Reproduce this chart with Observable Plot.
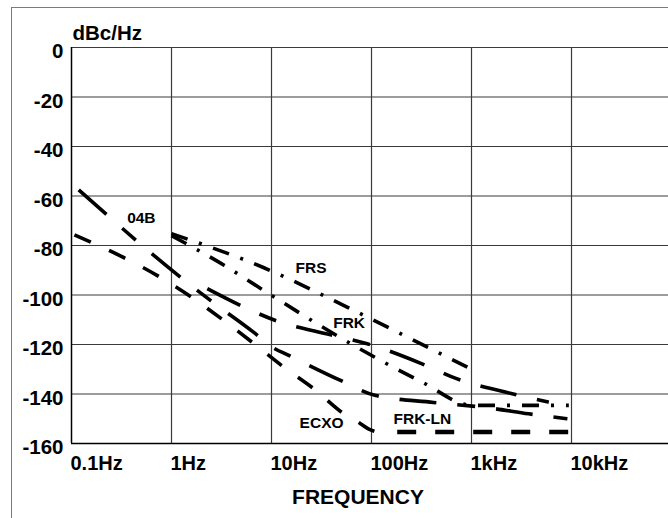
<!DOCTYPE html>
<html>
<head>
<meta charset="utf-8">
<script src="https://cdn.jsdelivr.net/npm/d3@7"></script>
<script src="https://cdn.jsdelivr.net/npm/@observablehq/plot@0.6"></script>
<style>
html, body { margin: 0; padding: 0; background: #fff; overflow: hidden; }
#wrap { position: relative; width: 668px; height: 518px; overflow: hidden; background: #fff; }
#chart { position: absolute; left: 0; top: 0; }
#frame { position: absolute; left: 11px; top: 7px; width: 800px; height: 700px; border: 1.5px solid #7a7a7a; pointer-events: none; }
</style>
</head>
<body>
<div id="wrap"><div id="chart"></div><div id="frame"></div></div>
<script>
// ---- Axis ticks ----
const yTicks = [0, -20, -40, -60, -80, -100, -120, -140, -160];
const xTicks = [0.1, 1, 10, 100, 1000, 10000];
const xTickLabels = ["0.1Hz", "1Hz", "10Hz", "100Hz", "1kHz", "10kHz"];
const yAxisTitle = "dBc/Hz";
const xAxisTitle = "FREQUENCY";

// ---- Curves (frequency in Hz, phase noise in dBc/Hz) ----
const freq04B = [0.118, 1.23, 2.45, 6.6, 10.2, 14.9, 49, 110, 417, 1550, 3720, 9100];
const db04B   = [-57.5, -92.8, -102.2, -115.0, -121.1, -124.4, -134.5, -140.6, -143.4, -145.7, -148.0, -150.0];

const freqFRKlong = [2.28, 4.9, 10.96, 38.9, 90.6, 320, 720, 2550, 5930];
const dbFRKlong   = [-97.4, -104.2, -110.3, -116.1, -119.7, -127.8, -133.9, -139.9, -143.3];

const freqECXO = [0.107, 0.746, 1.55, 3.33, 6.41, 13.3, 26.5, 52.8, 77.6, 93, 114];
const dbECXO   = [-75.7, -92.5, -100.6, -110.3, -119.1, -129.2, -137.9, -148.0, -152.0, -154.1, -155.4];

const freqFRS = [1.0, 8.4, 57, 389, 977];
const dbFRS   = [-75.2, -89.0, -104.9, -121.7, -129.8];

const freqFRK = [1.0, 3.39, 8.4, 51, 321, 1016, 9400];
const dbFRK   = [-76.0, -88.1, -98.2, -117.7, -135.2, -144.6, -144.6];

const freqFRKLN = [180.7, 9400];
const dbFRKLN   = [-155.4, -155.4];

// ---- Curve labels ----
const labelNames = ["04B", "FRS", "FRK", "ECXO", "FRK-LN"];
const labelFreq  = [0.36, 17.4, 41.4, 19.1, 166];
const labelDb    = [-69.1, -89.3, -111.5, -151.9, -150.3];

// ---- Build tables ----
const toRows = (name, fs, ds) => fs.map((f, i) => ({name, f, db: ds[i]}));
const longShort = [...toRows("04B", freq04B, db04B), ...toRows("FRKlong", freqFRKlong, dbFRKlong)];
const ecxo = toRows("ECXO", freqECXO, dbECXO);
const dashDot = [...toRows("FRS", freqFRS, dbFRS), ...toRows("FRK", freqFRK, dbFRK)];
const frkln = toRows("FRK-LN", freqFRKLN, dbFRKLN);
const labels = labelNames.map((name, i) => ({name, f: labelFreq[i], db: labelDb[i]}));
const xTickRows = xTicks.map((v, i) => ({v, label: xTickLabels[i]}));

const gridColor = "#3a3a3a";
const arial = "Liberation Sans, Arial, sans-serif";

const chart = Plot.plot({
  width: 668,
  height: 518,
  marginLeft: 71,
  marginRight: 0,
  marginTop: 47,
  marginBottom: 75,
  x: {type: "log", domain: [0.1, 93325], axis: null},
  y: {domain: [-160, 0], axis: null},
  style: {fontFamily: arial, fontWeight: "bold", color: "#000", background: "transparent", overflow: "visible"},
  marks: [
    Plot.ruleY(yTicks.filter(d => d !== -160), {y: d => d, stroke: gridColor, strokeWidth: 1.2}),
    Plot.ruleX(xTicks.filter(d => d !== 0.1), {x: d => d, stroke: gridColor, strokeWidth: 1.2}),
    Plot.ruleY([-160], {y: d => d, stroke: "#000", strokeWidth: 1.5}),
    Plot.ruleX([0.1], {x: d => d, stroke: "#000", strokeWidth: 1.5}),

    Plot.line(longShort, {x: "f", y: "db", z: "name", stroke: "#000", strokeWidth: 3.6,
      strokeDasharray: "37,21,18,21", strokeLinecap: "butt", curve: "monotone-x"}),
    Plot.line(ecxo, {x: "f", y: "db", z: "name", stroke: "#000", strokeWidth: 3.6,
      strokeDasharray: "18,20", strokeLinecap: "butt", curve: "monotone-x"}),
    Plot.line(dashDot, {x: "f", y: "db", z: "name", stroke: "#000", strokeWidth: 3.6,
      strokeDasharray: "17,12,3,12", strokeLinecap: "butt", curve: "monotone-x"}),
    Plot.line(frkln, {x: "f", y: "db", z: "name", stroke: "#000", strokeWidth: 4.5,
      strokeDasharray: "19,19", strokeLinecap: "butt"}),

    Plot.text(labels, {x: "f", y: "db", text: "name", textAnchor: "start", lineAnchor: "middle",
      fontSize: 15.5, fill: "#000"}),

    Plot.text(yTicks, {y: d => d, text: d => String(d), frameAnchor: "left", textAnchor: "end", lineAnchor: "middle",
      dx: -8, dy: 4, fontSize: 20.5, fill: "#000"}),
    Plot.text(xTickRows, {x: "v", text: "label", frameAnchor: "bottom", textAnchor: "start", lineAnchor: "middle",
      dx: -1, dy: 20, fontSize: 20, fill: "#000"}),
    Plot.text([yAxisTitle], {text: d => d, frameAnchor: "top-left", textAnchor: "start", lineAnchor: "middle",
      dx: 1, dy: -14, fontSize: 20.5, fill: "#000"}),
    Plot.text([xAxisTitle], {text: d => d, frameAnchor: "bottom", lineAnchor: "middle", dx: -12, dy: 54, fontSize: 21, fill: "#000"})
  ]
});
document.getElementById("chart").appendChild(chart);
</script>
</body>
</html>
